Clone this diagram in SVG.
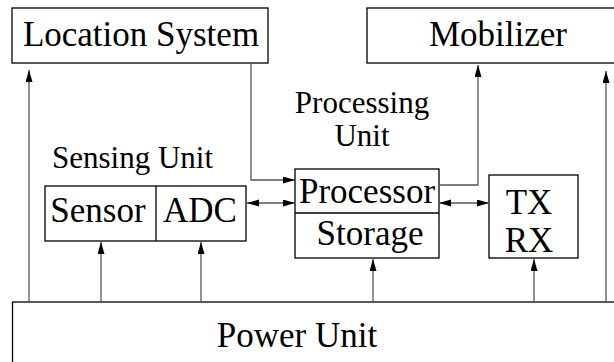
<svg xmlns="http://www.w3.org/2000/svg" width="614" height="362" viewBox="0 0 614 362">
<style>
.box{fill:#fff;stroke:#000;stroke-width:1.3}
.t{font-family:"Liberation Serif","Times New Roman",serif;font-size:35px;fill:#000;text-anchor:middle}
.lbl{font-family:"Liberation Serif","Times New Roman",serif;font-size:31px;fill:#000}
.c{fill:none;stroke:#555;stroke-width:1.3}
</style>
<defs>
<marker id="ah" markerUnits="userSpaceOnUse" markerWidth="13" markerHeight="8" refX="12" refY="3.5" orient="auto-start-reverse">
<path d="M0,0 L12,3.5 L0,7 z" fill="#000"/>
</marker>
</defs>
<rect width="614" height="362" fill="#fff"/>
<g id="location">
<rect class="box" x="12" y="8" width="256" height="55"/>
<text class="t" x="141" y="46">Location System</text>
</g>
<g id="mobilizer">
<rect class="box" x="367" y="8" width="260" height="55"/>
<text class="t" x="498" y="46">Mobilizer</text>
</g>
<g id="sensing-unit">
<text class="lbl" x="52" y="168">Sensing Unit</text>
<rect class="box" x="45" y="186" width="201" height="55"/>
<line x1="156" y1="186" x2="156" y2="241" stroke="#000" stroke-width="1.3"/>
<text class="t" x="98" y="222">Sensor</text>
<text class="t" x="200" y="222">ADC</text>
</g>
<g id="processing-unit">
<text class="lbl" x="362" y="113" text-anchor="middle">Processing</text>
<text class="lbl" x="362" y="146" text-anchor="middle">Unit</text>
<rect class="box" x="295" y="169" width="144" height="89"/>
<line x1="295" y1="213" x2="439" y2="213" stroke="#000" stroke-width="1.3"/>
<text class="t" x="367" y="203">Processor</text>
<text class="t" x="370" y="245">Storage</text>
</g>
<g id="txrx">
<rect class="box" x="489" y="175" width="89" height="83"/>
<text class="t" x="529" y="214">TX</text>
<text class="t" x="529" y="252">RX</text>
</g>
<g id="power">
<rect class="box" x="12.5" y="302" width="620" height="80"/>
<text class="t" x="297" y="347">Power Unit</text>
</g>
<g id="connectors">
<line class="c" x1="29" y1="302" x2="29" y2="70" marker-end="url(#ah)"/>
<line class="c" x1="606" y1="302" x2="606" y2="71" marker-end="url(#ah)"/>
<path class="c" d="M251,63 V180 H295" marker-end="url(#ah)"/>
<path class="c" d="M439,185 H478 V65" marker-end="url(#ah)"/>
<line class="c" x1="247" y1="203" x2="295" y2="203" marker-start="url(#ah)" marker-end="url(#ah)"/>
<line class="c" x1="439" y1="203" x2="489" y2="203" marker-start="url(#ah)" marker-end="url(#ah)"/>
<line class="c" x1="101" y1="302" x2="101" y2="242" marker-end="url(#ah)"/>
<line class="c" x1="201" y1="302" x2="201" y2="242" marker-end="url(#ah)"/>
<line class="c" x1="373" y1="302" x2="373" y2="259" marker-end="url(#ah)"/>
<line class="c" x1="534" y1="302" x2="534" y2="259" marker-end="url(#ah)"/>
</g>
</svg>
